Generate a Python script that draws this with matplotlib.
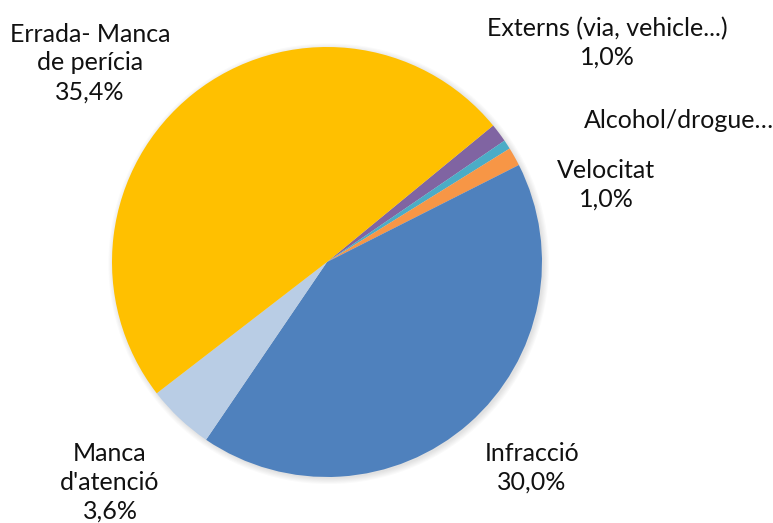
import matplotlib.pyplot as plt
from matplotlib.patches import Circle

# Causes d'accident (percentatges sobre el total, alguns no es mostren)
labels = ['Externs (via, vehicle...)', 'Alcohol/drogue…', 'Velocitat',
          'Infracció', "Manca\nd'atenció", 'Errada- Manca\nde perícia']
values = [1.0, 0.5, 1.0, 30.0, 3.6, 35.4]
colors = ['#8064A2', '#4BACC6', '#F79646', '#4F81BD', '#B9CDE5', '#FFC000']
show_pct = [True, False, True, True, True, True]

# posicions de les etiquetes (pixels de la figura, centre del text)
label_pos = [(607, 43), (584, 120), (606, 185), (532, 468), (110, 482), (90, 63)]
label_ha = ['center', 'left', 'center', 'center', 'center', 'center']

W, H = 773, 523
fig = plt.figure(figsize=(W / 100, H / 100), dpi=100)
cx, cy, r = 327, 262, 215
ax = fig.add_axes([(cx - r * 1.05) / W, (H - cy - r * 1.05) / H, 2.1 * r / W, 2.1 * r / H])

# sombra suau com la d'Excel
for i in range(6):
    ax.add_patch(Circle((0.008, -0.008), 1 + 0.005 * i, color='black',
                        alpha=0.018, lw=0, zorder=0))

ax.pie(values, colors=colors, startangle=39.4, counterclock=False,
       radius=1, wedgeprops=dict(linewidth=0), normalize=True)
ax.set_xlim(-1.05, 1.05)
ax.set_ylim(-1.05, 1.05)
ax.set_aspect('equal')
ax.axis('off')

for lab, v, sp, (px, py), ha in zip(labels, values, show_pct, label_pos, label_ha):
    txt = lab
    if sp:
        txt += '\n' + f'{v:.1f}%'.replace('.', ',')
    fig.text(px / W, 1 - py / H, txt, ha=ha, va='center', fontsize=18,
             family='Lato', color='#111111', linespacing=1.3,
             multialignment='center')

fig.savefig('out.png', dpi=100)
